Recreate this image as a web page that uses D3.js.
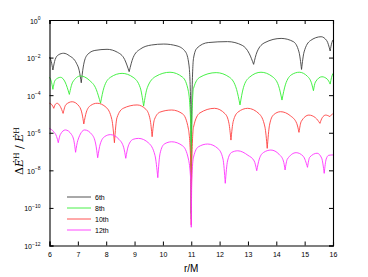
<!DOCTYPE html>
<html>
<head>
<meta charset="utf-8">
<script src="https://cdn.jsdelivr.net/npm/d3@7"></script>
<style>
  body { margin: 0; background: #fff; }
  svg { display: block; font-family: 'Liberation Sans', Arial, sans-serif; }
  .tick text { font-size: 7px; fill: #000; }
  .domain, .tick line { stroke: #000; }
</style>
</head>
<body>
<div id="app"></div>
<script>
// x positions (r/M) and log10 of the ratio
const series = ['6th', '8th', '10th', '12th'];
const colors = ['#404040', '#33ee33', '#ff4040', '#ff33ff'];

const order6 = [
  [6.0,-1.97],[6.06,-2.2],[6.12,-2.66],[6.2,-2.1],[6.32,-1.85],[6.5,-1.77],[6.7,-1.9],
  [6.95,-2.3],[7.05,-2.7],[7.12,-3.34],[7.19,-2.5],[7.33,-1.86],[7.6,-1.62],[8.03,-1.56],
  [8.4,-1.72],[8.65,-2.1],[8.81,-2.75],[8.95,-2.0],[9.2,-1.55],[9.6,-1.33],[10.03,-1.28],
  [10.5,-1.38],[10.8,-1.7],[10.92,-2.4],[10.98,-4.5],[11.0,-10.3],[11.02,-4.5],[11.08,-2.04],
  [11.2,-1.5],[11.6,-1.2],[12.28,-1.15],[12.8,-1.35],[13.05,-1.8],[13.2,-2.36],[13.32,-1.7],
  [13.6,-1.2],[14.17,-0.98],[14.6,-1.15],[14.8,-1.7],[14.89,-2.63],[14.98,-1.7],[15.2,-1.1],
  [15.58,-0.89],[15.78,-1.1],[15.9,-1.65],[15.96,-1.2],[16.0,-1.06]
];
const order8 = [
  [6.0,-3.05],[6.06,-3.25],[6.12,-3.69],[6.2,-3.2],[6.39,-3.05],[6.55,-3.3],[6.7,-3.96],
  [6.82,-3.3],[7.09,-2.98],[7.4,-3.2],[7.65,-3.7],[7.8,-4.43],[7.92,-3.6],[8.15,-3.05],
  [8.56,-2.84],[8.95,-3.05],[9.2,-3.6],[9.32,-4.58],[9.45,-3.6],[9.75,-3.0],[10.25,-2.78],
  [10.7,-3.05],[10.9,-3.8],[10.98,-5.5],[11.0,-10.6],[11.02,-5.5],[11.08,-3.64],[11.3,-3.05],
  [11.88,-2.8],[12.35,-3.05],[12.6,-3.7],[12.72,-4.52],[12.84,-3.6],[13.05,-3.05],[13.46,-2.78],
  [13.85,-3.0],[14.08,-3.5],[14.2,-4.26],[14.32,-3.45],[14.55,-2.9],[14.81,-2.78],[15.1,-3.0],
  [15.25,-3.4],[15.31,-3.76],[15.38,-3.3],[15.61,-3.02],[15.8,-3.15],[15.9,-3.41],[15.95,-3.05],
  [16.0,-2.84]
];
const order10 = [
  [6.0,-4.43],[6.08,-4.5],[6.15,-4.7],[6.21,-4.48],[6.27,-4.43],[6.38,-4.6],[6.48,-4.97],
  [6.58,-4.5],[6.8,-4.35],[7.05,-4.6],[7.15,-5.0],[7.21,-5.53],[7.3,-4.9],[7.45,-4.55],
  [7.68,-4.43],[8.0,-4.65],[8.2,-5.3],[8.29,-6.53],[8.38,-5.2],[8.6,-4.7],[9.09,-4.52],
  [9.4,-4.75],[9.55,-5.3],[9.62,-6.21],[9.7,-5.3],[9.9,-4.9],[10.31,-4.79],[10.7,-5.0],
  [10.9,-5.8],[10.98,-7.5],[11.0,-10.9],[11.02,-7.5],[11.08,-5.7],[11.3,-4.95],[11.82,-4.7],
  [12.2,-5.0],[12.33,-5.5],[12.4,-6.39],[12.48,-5.4],[12.65,-4.9],[12.99,-4.7],[13.4,-5.0],
  [13.6,-5.7],[13.68,-6.83],[13.76,-5.6],[13.9,-5.05],[14.15,-4.88],[14.5,-5.1],[14.72,-5.5],
  [14.8,-5.98],[14.88,-5.4],[15.15,-5.06],[15.38,-5.2],[15.54,-5.5],[15.62,-5.2],[15.74,-5.06],
  [15.89,-5.14],[16.0,-4.97]
];
const order12 = [
  [6.0,-5.77],[6.15,-5.95],[6.25,-6.2],[6.31,-6.53],[6.38,-6.1],[6.56,-5.85],[6.78,-6.1],
  [6.87,-6.5],[6.92,-7.04],[7.0,-6.4],[7.24,-5.85],[7.5,-6.1],[7.63,-6.6],[7.7,-7.33],
  [7.79,-6.6],[7.95,-6.2],[8.15,-6.1],[8.45,-6.35],[8.62,-6.8],[8.69,-7.36],[8.78,-6.7],
  [8.95,-6.35],[9.14,-6.3],[9.5,-6.55],[9.72,-7.2],[9.82,-8.39],[9.9,-7.1],[10.05,-6.6],
  [10.31,-6.48],[10.7,-6.7],[10.9,-7.4],[10.98,-8.5],[11.0,-11.03],[11.02,-8.5],[11.08,-7.3],
  [11.25,-6.75],[11.58,-6.6],[11.95,-6.85],[12.12,-7.4],[12.2,-8.69],[12.28,-7.5],[12.42,-7.05],
  [12.64,-6.96],[13.0,-7.2],[13.22,-7.5],[13.31,-8.02],[13.4,-7.4],[13.55,-7.05],[13.81,-6.92],
  [14.1,-7.15],[14.25,-7.5],[14.31,-7.98],[14.39,-7.4],[14.7,-7.06],[14.95,-7.25],[15.1,-7.84],
  [15.18,-7.3],[15.44,-7.09],[15.6,-7.35],[15.69,-8.16],[15.76,-7.4],[15.85,-7.2],[16.0,-7.18]
];
const seriesData = [order6, order8, order10, order12];

const xTicks = [6, 7, 8, 9, 10, 11, 12, 13, 14, 15, 16];
const yTickExponents = [0, -2, -4, -6, -8, -10, -12];

// canvas
const containerWidth = 368;
const containerHeight = 277;
const margin = { top: 20, right: 35, bottom: 31.5, left: 49.5 };
const width = containerWidth - margin.left - margin.right;
const height = containerHeight - margin.top - margin.bottom;

const wrapper = d3.select('#app')
  .append('svg')
  .attr('width', containerWidth)
  .attr('height', containerHeight);

const bounds = wrapper.append('g')
  .attr('transform', `translate(${margin.left},${margin.top})`);

// scales
const xScale = d3.scaleLinear().domain([6, 16]).range([0, width]);
const yScale = d3.scaleLog().domain([1e-12, 1]).range([height, 0]);

// curves: each arch between cusps is smoothed separately so cusps stay sharp
const lineGen = d3.line()
  .x((d) => xScale(d[0]))
  .y((d) => yScale(Math.pow(10, d[1])))
  .curve(d3.curveMonotoneX);

const splitAtCusps = (pts) => {
  const segs = [];
  let cur = [pts[0]];
  for (let i = 1; i < pts.length; i++) {
    cur.push(pts[i]);
    const isMin = i < pts.length - 1 && pts[i][1] < pts[i - 1][1] && pts[i][1] < pts[i + 1][1];
    if (isMin) { segs.push(cur); cur = [pts[i]]; }
  }
  segs.push(cur);
  return segs;
};

const curves = bounds.append('g').attr('class', 'curves');
seriesData.forEach((pts, i) => {
  curves.append('path')
    .attr('fill', 'none')
    .attr('stroke', colors[i])
    .attr('stroke-width', 0.9)
    .attr('stroke-linejoin', 'round')
    .attr('d', splitAtCusps(pts).map((s) => lineGen(s)).join(''));
});

// axes, ticks pointing inward like gnuplot
const yTickValues = yTickExponents.map((e) => Math.pow(10, e));
const tickLen = 4;

const xAxis = bounds.append('g')
  .attr('transform', `translate(0,${height})`)
  .call(d3.axisBottom(xScale).tickValues(xTicks).tickSize(-tickLen).tickPadding(7).tickFormat(d3.format('d')));
const xAxisTop = bounds.append('g')
  .call(d3.axisTop(xScale).tickValues(xTicks).tickSize(-tickLen).tickFormat(''));
const yAxis = bounds.append('g')
  .call(d3.axisLeft(yScale).tickValues(yTickValues).tickSize(-tickLen).tickPadding(8).tickFormat(''));
const yAxisRight = bounds.append('g')
  .attr('transform', `translate(${width},0)`)
  .call(d3.axisRight(yScale).tickValues(yTickValues).tickSize(-tickLen).tickFormat(''));

[xAxis, xAxisTop, yAxis, yAxisRight].forEach((a) => {
  a.select('.domain').attr('stroke-width', 1.1);
});

// y tick labels as 10^n
yAxis.selectAll('.tick').each(function (d) {
  const t = d3.select(this).append('text')
    .attr('x', -9)
    .attr('y', 3)
    .attr('text-anchor', 'end')
    .style('font-size', '7px');
  const e = Math.round(Math.log10(d));
  t.append('tspan').text('10');
  t.append('tspan').attr('dy', -3.5).style('font-size', '5px').text(e === 0 ? '0' : `\u2212${-e}`);
});

// axis labels
bounds.append('text')
  .attr('x', width / 2)
  .attr('y', height + 26)
  .attr('text-anchor', 'middle')
  .style('font-size', '10px')
  .text('r/M');

const yLabel = wrapper.append('text')
  .attr('transform', `translate(23,${margin.top + 131}) rotate(-90)`)
  .attr('text-anchor', 'middle')
  .style('font-family', "'DejaVu Serif', 'Liberation Serif', serif")
  .style('font-size', '11px');
yLabel.append('tspan').text('\u0394');
yLabel.append('tspan').style('font-style', 'italic').text('\u0116');
yLabel.append('tspan').attr('dy', -4.5).style('font-size', '7.5px').text('H');
yLabel.append('tspan').attr('dy', 4.5).text(' / ');
yLabel.append('tspan').style('font-style', 'italic').text('\u0116');
yLabel.append('tspan').attr('dy', -4.5).style('font-size', '7.5px').text('H');

// legend
const legend = bounds.append('g')
  .attr('transform', `translate(${67 - margin.left},${197 - margin.top})`);
series.forEach((name, i) => {
  const row = legend.append('g').attr('transform', `translate(0,${i * 11})`);
  row.append('line')
    .attr('x1', 0).attr('x2', 24)
    .attr('stroke', colors[i])
    .attr('stroke-width', 0.9);
  row.append('text')
    .attr('x', 28)
    .attr('y', 2.5)
    .style('font-size', '7px')
    .text(name);
});
</script>
</body>
</html>
